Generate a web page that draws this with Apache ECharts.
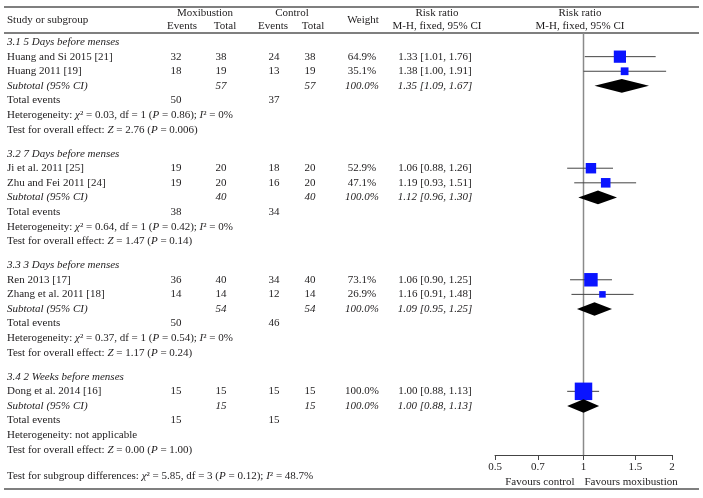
<!DOCTYPE html>
<html><head><meta charset="utf-8">
<script src="https://cdn.jsdelivr.net/npm/echarts@6/dist/echarts.min.js"></script>
<style>html,body{margin:0;padding:0;background:#fff}#c{width:703px;height:498px}</style>
</head><body><div id="c"></div>
<script>
// ---------- data ----------
const groupNames = ['3.1 5 Days before menses','3.2 7 Days before menses','3.3 3 Days before menses','3.4 2 Weeks before menses'];
const studyNames = ['Huang and Si 2015 [21]','Huang 2011 [19]','Ji et al. 2011 [25]','Zhu and Fei 2011 [24]','Ren 2013 [17]','Zhang et al. 2011 [18]','Dong et al. 2014 [16]'];
const studyGroup = [0,0,1,1,2,2,3];
const moxEvents = [32,18,19,19,36,14,15];
const moxTotal = [38,19,20,20,40,14,15];
const ctrlEvents = [24,13,18,16,34,12,15];
const ctrlTotal = [38,19,20,20,40,14,15];
const weights = [64.9,35.1,52.9,47.1,73.1,26.9,100.0];
const rr = [1.33,1.38,1.06,1.19,1.06,1.16,1.00];
const rrLow = [1.01,1.00,0.88,0.93,0.90,0.91,0.88];
const rrHigh = [1.76,1.91,1.26,1.51,1.25,1.48,1.13];
const subMoxTotal = [57,40,54,15];
const subCtrlTotal = [57,40,54,15];
const subRR = [1.35,1.12,1.09,1.00];
const subLow = [1.09,0.96,0.95,0.88];
const subHigh = [1.67,1.30,1.25,1.13];
const totMoxEvents = [50,38,50,15];
const totCtrlEvents = [37,34,46,15];
const hetChi2 = ['0.03','0.64','0.37',null];
const hetDf = [1,1,1,null];
const hetP = ['0.86','0.42','0.54',null];
const hetI2 = ['0%','0%','0%',null];
const overallZ = ['2.76','1.47','1.17','0.00'];
const overallP = ['0.006','0.14','0.24','1.00'];
const axisTicks = [0.5,0.7,1,1.5,2];
const diffChi2 = '5.85', diffDf = 3, diffP = '0.12', diffI2 = '48.7%';

// ---------- layout ----------
const FONT = 'Liberation Serif', FS = 11, INK = '#1e1c1d';
const RICH = { i: { fontStyle: 'italic', fontSize: FS, fontFamily: FONT, fill: INK } };
const COL = { name: 7, me: 176, mt: 221, ce: 274, ct: 310, w: 362, rr: 435 };
const rows = [];
let pos = 0.62;
groupNames.forEach((g, gi) => {
  if (gi > 0) pos += 1.64;
  rows.push({ kind: 'group', y: pos, gi });
  studyNames.forEach((s, si) => { if (studyGroup[si] === gi) { pos += 1; rows.push({ kind: 'study', y: pos, si }); } });
  pos += 1; rows.push({ kind: 'sub', y: pos, gi });
  pos += 1; rows.push({ kind: 'tot', y: pos, gi });
  pos += 1; rows.push({ kind: 'het', y: pos, gi });
  pos += 1; rows.push({ kind: 'test', y: pos, gi });
});
const Y_MAX = 28.9;

function T(x, y, text, align, italic) {
  return { type: 'text', style: { x, y, text, align: align || 'center', verticalAlign: 'middle',
    fontSize: FS, fontFamily: FONT, fontStyle: italic ? 'italic' : 'normal', fill: INK, rich: RICH } };
}

function renderTable(params, api) {
  const r = rows[params.dataIndex];
  const y = api.coord([1, r.y])[1];
  const ch = [];
  if (r.kind === 'group') ch.push(T(COL.name, y, groupNames[r.gi], 'left', true));
  else if (r.kind === 'study') {
    const i = r.si;
    ch.push(T(COL.name, y, studyNames[i], 'left'));
    ch.push(T(COL.me, y, String(moxEvents[i])));
    ch.push(T(COL.mt, y, String(moxTotal[i])));
    ch.push(T(COL.ce, y, String(ctrlEvents[i])));
    ch.push(T(COL.ct, y, String(ctrlTotal[i])));
    ch.push(T(COL.w, y, weights[i].toFixed(1) + '%'));
    ch.push(T(COL.rr, y, rr[i].toFixed(2) + ' [' + rrLow[i].toFixed(2) + ', ' + rrHigh[i].toFixed(2) + ']'));
  } else if (r.kind === 'sub') {
    const g = r.gi;
    ch.push(T(COL.name, y, 'Subtotal (95% CI)', 'left', true));
    ch.push(T(COL.mt, y, String(subMoxTotal[g]), 'center', true));
    ch.push(T(COL.ct, y, String(subCtrlTotal[g]), 'center', true));
    ch.push(T(COL.w, y, '100.0%', 'center', true));
    ch.push(T(COL.rr, y, subRR[g].toFixed(2) + ' [' + subLow[g].toFixed(2) + ', ' + subHigh[g].toFixed(2) + ']', 'center', true));
  } else if (r.kind === 'tot') {
    const g = r.gi;
    ch.push(T(COL.name, y, 'Total events', 'left'));
    ch.push(T(COL.me, y, String(totMoxEvents[g])));
    ch.push(T(COL.ce, y, String(totCtrlEvents[g])));
  } else if (r.kind === 'het') {
    const g = r.gi;
    const s = hetChi2[g] === null ? 'Heterogeneity: not applicable'
      : 'Heterogeneity: {i|χ}² = ' + hetChi2[g] + ', df = ' + hetDf[g] + ' ({i|P} = ' + hetP[g] + '); {i|I}² = ' + hetI2[g];
    ch.push(T(COL.name, y, s, 'left'));
  } else if (r.kind === 'test') {
    const g = r.gi;
    ch.push(T(COL.name, y, 'Test for overall effect: {i|Z} = ' + overallZ[g] + ' ({i|P} = ' + overallP[g] + ')', 'left'));
  }
  return { type: 'group', children: ch };
}

function renderStudy(params, api) {
  const y = api.value(1);
  const c = api.coord([api.value(0), y]);
  const a = api.coord([api.value(2), y]);
  const b = api.coord([api.value(3), y]);
  const s = 2.5 + 15 * api.value(4) / 100;
  return { type: 'group', children: [
    { type: 'line', shape: { x1: a[0], y1: c[1], x2: b[0], y2: c[1] }, style: { stroke: '#444', lineWidth: 1 } },
    { type: 'rect', shape: { x: c[0] - s / 2, y: c[1] - s / 2, width: s, height: s }, style: { fill: '#0a14ff' } }
  ]};
}

function renderDiamond(params, api) {
  const y = api.value(1);
  const c = api.coord([api.value(0), y]);
  const a = api.coord([api.value(2), y]);
  const b = api.coord([api.value(3), y]);
  const h = 6.8;
  return { type: 'polygon', shape: { points: [[a[0], c[1]], [c[0], c[1] - h], [b[0], c[1]], [c[0], c[1] + h]] },
    style: { fill: '#000' } };
}

function renderRef(params, api) {
  const t = api.coord([1, 0]);
  const bt = api.coord([1, Y_MAX]);
  return { type: 'group', children: [
    { type: 'line', shape: { x1: t[0], y1: t[1], x2: bt[0], y2: bt[1] }, style: { stroke: '#8a8a8a', lineWidth: 1.5 } },
    { type: 'text', style: { x: bt[0] - 9, y: bt[1] + 27, text: 'Favours control', align: 'right', verticalAlign: 'middle', fontSize: FS, fontFamily: FONT, fill: INK } },
    { type: 'text', style: { x: bt[0] + 1, y: bt[1] + 27, text: 'Favours moxibustion', align: 'left', verticalAlign: 'middle', fontSize: FS, fontFamily: FONT, fill: INK } }
  ]};
}

const studyData = studyNames.map((n, i) => {
  const r = rows.find(q => q.kind === 'study' && q.si === i);
  return [rr[i], r.y, rrLow[i], rrHigh[i], weights[i]];
});
const diamondData = groupNames.map((n, g) => {
  const r = rows.find(q => q.kind === 'sub' && q.gi === g);
  return [subRR[g], r.y, subLow[g], subHigh[g]];
});

const chart = echarts.init(document.getElementById('c'), null, { renderer: 'canvas' });
const hdr = (x, y, text, align) => ({ type: 'text', x, y, style: { text, align: align || 'center', verticalAlign: 'middle', fontSize: FS, fontFamily: FONT, fill: INK } });
const hline = (y) => ({ type: 'line', shape: { x1: 4, y1: y, x2: 699, y2: y }, style: { stroke: '#555', lineWidth: 1.5 } });

chart.setOption({
  animation: false,
  backgroundColor: '#fff',
  grid: { left: 495, width: 177, top: 33, height: 422 },
  xAxis: {
    type: 'log', logBase: 10, min: 0.5, max: 2,
    splitLine: { show: false },
    axisLine: { show: true, onZero: false, lineStyle: { color: '#444', width: 1 } },
    axisTick: { show: true, inside: false, length: 5, customValues: axisTicks, lineStyle: { color: '#444' } },
    axisLabel: { show: true, customValues: axisTicks, margin: 7, fontSize: FS, fontFamily: FONT, color: INK,
      formatter: v => String(Math.round(v * 100) / 100) }
  },
  yAxis: { type: 'value', min: 0, max: Y_MAX, inverse: true, show: false },
  graphic: [
    hline(7), hline(33), hline(489),
    hdr(7, 20, 'Study or subgroup', 'left'),
    hdr(205, 13, 'Moxibustion'), hdr(182, 26, 'Events'), hdr(225, 26, 'Total'),
    hdr(292, 13, 'Control'), hdr(273, 26, 'Events'), hdr(313, 26, 'Total'),
    hdr(363, 20, 'Weight'),
    hdr(437, 13, 'Risk ratio'), hdr(437, 26, 'M-H, fixed, 95% CI'),
    hdr(580, 13, 'Risk ratio'), hdr(580, 26, 'M-H, fixed, 95% CI'),
    { type: 'text', x: 7, y: 476, style: { text: 'Test for subgroup differences: {i|χ}² = ' + diffChi2 + ', df = ' + diffDf + ' ({i|P} = ' + diffP + '); {i|I}² = ' + diffI2,
      align: 'left', verticalAlign: 'middle', fontSize: FS, fontFamily: FONT, fill: INK, rich: RICH } }
  ],
  series: [
    { type: 'custom', clip: false, renderItem: renderRef, data: [[1, 0]], encode: { x: 0, y: 1 }, z: 1 },
    { type: 'custom', clip: false, renderItem: renderTable, data: rows.map(r => [1, r.y]), encode: { x: 0, y: 1 }, z: 2 },
    { type: 'custom', clip: false, renderItem: renderStudy, data: studyData, encode: { x: 0, y: 1 }, z: 3 },
    { type: 'custom', clip: false, renderItem: renderDiamond, data: diamondData, encode: { x: 0, y: 1 }, z: 3 }
  ]
});
</script>
</body></html>
